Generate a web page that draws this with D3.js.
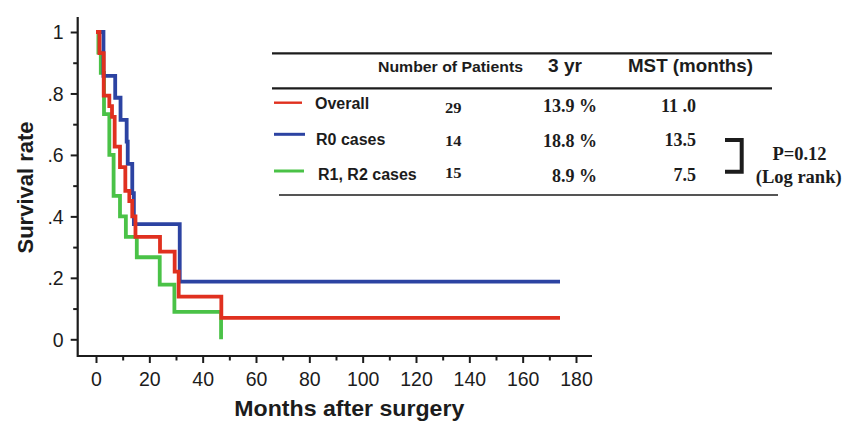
<!DOCTYPE html>
<html>
<head>
<meta charset="utf-8">
<script src="https://cdn.jsdelivr.net/npm/d3@7"></script>
<style>
  html, body { margin: 0; padding: 0; background: #fff; }
  svg { display: block; }
  .sans { font-family: "Liberation Sans", Arial, Helvetica, sans-serif; }
  .serif { font-family: "Liberation Serif", "Times New Roman", serif; }
</style>
</head>
<body>
<svg id="chart" width="856" height="423"></svg>
<script>
// Kaplan–Meier step data: [months, survival] at each change point
const overallSteps = [[0,1],[1.3,0.931],[2.9,0.793],[5,0.759],[6,0.724],[7,0.627],[9,0.56],[11,0.483],[12.5,0.45],[13.6,0.4],[14.8,0.333],[24,0.285],[29.5,0.22],[31,0.139],[47,0.07],[174,0.07]];
const r0Steps = [[0,1],[2.8,0.857],[7.2,0.786],[9.2,0.714],[11.5,0.643],[11.9,0.571],[13.6,0.476],[14.2,0.375],[31.4,0.1875],[174,0.1875]];
const r12Steps = [[0,1],[0.9,0.933],[1.8,0.867],[3,0.733],[5,0.6],[6.6,0.467],[9,0.4],[11.2,0.333],[15.3,0.267],[23.9,0.178],[29.4,0.089],[46.9,0]];

// Table contents
const headers = ["Number of Patients", "3 yr", "MST (months)"];
const groups = ["Overall", "R0 cases", "R1, R2 cases"];
const patients = ["29", "14", "15"];
const threeYear = ["13.9 %", "18.8 %", "8.9 %"];
const mst = ["11 .0", "13.5", "7.5"];

// Axis ticks
const xTicks = [0, 20, 40, 60, 80, 100, 120, 140, 160, 180];
const xMinor = [10, 30, 50, 70, 90, 110, 130, 150, 170];
const yTicks = [0, 0.2, 0.4, 0.6, 0.8, 1];
const yTickLabels = ["0", ".2", ".4", ".6", ".8", "1"];
const yMinor = [0.1, 0.3, 0.5, 0.7, 0.9];

const colors = { overall: "#e0301f", r0: "#2c43a2", r12: "#4ac247" };
const ink = "#1c1c1c";

const svg = d3.select("#chart");

const x = d3.scaleLinear().domain([0, 180]).range([96, 576]);
const y = d3.scaleLinear().domain([0, 1]).range([339.3, 32]);

const frameLeft = 77.7, frameBottom = 356, frameTop = 17, frameRight = 592;

// Frame (L-shaped axes)
svg.append("path")
  .attr("d", `M${frameLeft},${frameTop}V${frameBottom}H${frameRight}`)
  .attr("fill", "none").attr("stroke", ink).attr("stroke-width", 2.2);

// Y axis ticks and labels
const yAxis = svg.append("g").attr("transform", `translate(${frameLeft},0)`)
  .call(d3.axisLeft(y).tickValues(yTicks).tickSize(7).tickPadding(7)
    .tickFormat((d, i) => yTickLabels[i]));
yAxis.select(".domain").remove();
yAxis.selectAll(".tick line").attr("stroke", ink).attr("stroke-width", 2);
yAxis.selectAll(".tick text").attr("class", "sans").attr("font-size", 19.5).attr("fill", ink)
  .attr("font-family", null).attr("dy", "0.35em");

const yAxisMinor = svg.append("g").attr("transform", `translate(${frameLeft},0)`)
  .call(d3.axisLeft(y).tickValues(yMinor).tickSize(4.5).tickFormat(""));
yAxisMinor.select(".domain").remove();
yAxisMinor.selectAll(".tick line").attr("stroke", ink).attr("stroke-width", 2);

// X axis ticks and labels
const xAxis = svg.append("g").attr("transform", `translate(0,${frameBottom})`)
  .call(d3.axisBottom(x).tickValues(xTicks).tickSize(7).tickPadding(9));
xAxis.select(".domain").remove();
xAxis.selectAll(".tick line").attr("stroke", ink).attr("stroke-width", 2);
xAxis.selectAll(".tick text").attr("class", "sans").attr("font-size", 19.5).attr("fill", ink)
  .attr("font-family", null);

const xAxisMinor = svg.append("g").attr("transform", `translate(0,${frameBottom})`)
  .call(d3.axisBottom(x).tickValues(xMinor).tickSize(4.5).tickFormat(""));
xAxisMinor.select(".domain").remove();
xAxisMinor.selectAll(".tick line").attr("stroke", ink).attr("stroke-width", 2);

// Axis titles
svg.append("text").attr("class", "sans")
  .attr("x", 349.3).attr("y", 415.5).attr("text-anchor", "middle")
  .attr("font-size", 22).attr("font-weight", "bold").attr("fill", ink)
  .attr("textLength", 230).attr("lengthAdjust", "spacingAndGlyphs")
  .text("Months after surgery");

svg.append("text").attr("class", "sans")
  .attr("transform", "translate(32.5,187.5) rotate(-90)")
  .attr("text-anchor", "middle")
  .attr("font-size", 22).attr("font-weight", "bold").attr("fill", ink)
  .text("Survival rate");

// Survival curves
const line = d3.line().x(d => x(d[0])).y(d => y(d[1])).curve(d3.curveStepAfter);
const curves = [
  { data: r12Steps, color: colors.r12 },
  { data: r0Steps, color: colors.r0 },
  { data: overallSteps, color: colors.overall }
];
svg.append("g").selectAll("path").data(curves).join("path")
  .attr("d", d => line(d.data))
  .attr("fill", "none")
  .attr("stroke", d => d.color)
  .attr("stroke-width", 3.8)
  .attr("stroke-linejoin", "miter");

// Summary table
const table = svg.append("g");
table.append("line").attr("x1", 272).attr("x2", 772).attr("y1", 53.3).attr("y2", 53.3)
  .attr("stroke", ink).attr("stroke-width", 2.2);
table.append("line").attr("x1", 272).attr("x2", 772).attr("y1", 88.3).attr("y2", 88.3)
  .attr("stroke", ink).attr("stroke-width", 2.2);
table.append("line").attr("x1", 279).attr("x2", 778).attr("y1", 195).attr("y2", 195)
  .attr("stroke", ink).attr("stroke-width", 1.6);

const headerPos = [{ x: 378, size: 15.5, len: 145 }, { x: 548, size: 18.5, len: 34 }, { x: 628, size: 18.5, len: 125 }];
table.selectAll("text.hdr").data(headers).join("text")
  .attr("class", "hdr sans")
  .attr("x", (d, i) => headerPos[i].x).attr("y", 72)
  .attr("font-size", (d, i) => headerPos[i].size).attr("font-weight", "bold").attr("fill", ink)
  .attr("textLength", (d, i) => headerPos[i].len).attr("lengthAdjust", "spacingAndGlyphs")
  .text(d => d);

const rowColors = [colors.overall, colors.r0, colors.r12];
const keyY = [102.7, 134.3, 171];
const keyX2 = [302, 305, 304];
table.selectAll("line.key").data(rowColors).join("line")
  .attr("class", "key")
  .attr("x1", 274).attr("x2", (d, i) => keyX2[i])
  .attr("y1", (d, i) => keyY[i]).attr("y2", (d, i) => keyY[i])
  .attr("stroke", d => d).attr("stroke-width", (d, i) => i === 0 ? 2.4 : 3);

const labelPos = [{ x: 315, y: 109 }, { x: 316, y: 145 }, { x: 318, y: 180 }];
table.selectAll("text.grp").data(groups).join("text")
  .attr("class", "grp sans")
  .attr("x", (d, i) => labelPos[i].x).attr("y", (d, i) => labelPos[i].y)
  .attr("font-size", 16).attr("font-weight", "bold").attr("fill", ink)
  .text(d => d);

const countY = [113, 146, 177.5];
table.selectAll("text.cnt").data(patients).join("text")
  .attr("class", "cnt serif")
  .attr("x", 445).attr("y", (d, i) => countY[i])
  .attr("font-size", 15.5).attr("font-weight", "bold").attr("fill", ink)
  .attr("textLength", 16.5).attr("lengthAdjust", "spacingAndGlyphs")
  .text(d => d);

const pctY = [111.7, 146.5, 181.5];
table.selectAll("text.pct").data(threeYear).join("text")
  .attr("class", "pct serif")
  .attr("x", 597).attr("y", (d, i) => pctY[i]).attr("text-anchor", "end")
  .attr("font-size", 18).attr("font-weight", "bold").attr("fill", ink)
  .text(d => d);

const mstY = [111.7, 146, 181];
table.selectAll("text.mst").data(mst).join("text")
  .attr("class", "mst serif")
  .attr("x", 696).attr("y", (d, i) => mstY[i]).attr("text-anchor", "end")
  .attr("font-size", 18).attr("font-weight", "bold").attr("fill", ink)
  .text(d => d);

// Log-rank comparison bracket
table.append("path")
  .attr("d", "M725,140H741.7V171.7H725")
  .attr("fill", "none").attr("stroke", ink).attr("stroke-width", 4);
table.append("text").attr("class", "serif")
  .attr("x", 799.5).attr("y", 160).attr("text-anchor", "middle")
  .attr("font-size", 18.5).attr("font-weight", "bold").attr("fill", ink)
  .text("P=0.12");
table.append("text").attr("class", "serif")
  .attr("x", 798.7).attr("y", 183).attr("text-anchor", "middle")
  .attr("font-size", 18.5).attr("font-weight", "bold").attr("fill", ink)
  .text("(Log rank)");
</script>
</body>
</html>
